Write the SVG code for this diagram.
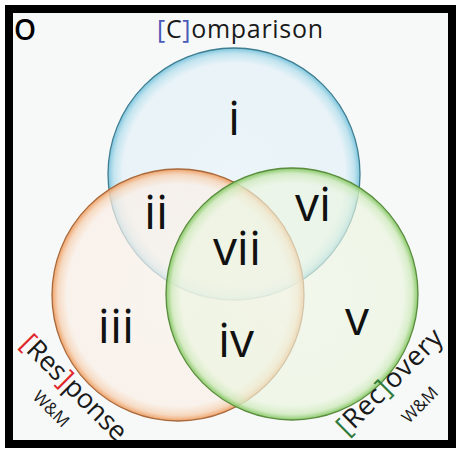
<svg xmlns="http://www.w3.org/2000/svg" width="456" height="453" viewBox="0 0 456 453">
<defs>
<radialGradient id="gB" cx="50%" cy="50%" r="50%">
<stop offset="0" stop-color="#e8f3f8" stop-opacity="0.75"/>
<stop offset="0.88" stop-color="#e4f1f7" stop-opacity="0.75"/>
<stop offset="0.955" stop-color="#b8e0ed" stop-opacity="0.85"/>
<stop offset="1" stop-color="#76c2dc" stop-opacity="0.95"/>
</radialGradient>
<radialGradient id="gO" cx="50%" cy="50%" r="50%">
<stop offset="0" stop-color="#fbf2eb" stop-opacity="0.7"/>
<stop offset="0.88" stop-color="#faefe6" stop-opacity="0.7"/>
<stop offset="0.955" stop-color="#f6d3b6" stop-opacity="0.85"/>
<stop offset="1" stop-color="#ee9c5e" stop-opacity="0.95"/>
</radialGradient>
<radialGradient id="gG" cx="50%" cy="50%" r="50%">
<stop offset="0" stop-color="#eef6e4" stop-opacity="0.65"/>
<stop offset="0.88" stop-color="#ebf5df" stop-opacity="0.65"/>
<stop offset="0.955" stop-color="#d0eabe" stop-opacity="0.85"/>
<stop offset="1" stop-color="#82c660" stop-opacity="0.95"/>
</radialGradient>
<style>
.num{font-family:"Open Sans","DejaVu Sans",sans-serif;font-size:48px;fill:#111;text-anchor:middle}
.lab{font-family:"Open Sans","DejaVu Sans",sans-serif;font-size:27px;fill:#1a1a1a}
.wm{font-family:"Open Sans","DejaVu Sans",sans-serif;font-size:17px;fill:#1a1a1a;text-anchor:middle}
</style>
</defs>
<rect x="9" y="9" width="443" height="435" fill="#f7f9f9" stroke="#000" stroke-width="8"/>
<text x="14" y="40" font-family="Open Sans, DejaVu Sans, sans-serif" font-size="28" font-weight="600" fill="#000">O</text>
<text x="157" y="38" font-family="Open Sans, DejaVu Sans, sans-serif" font-size="25" fill="#1a1a1a" textLength="166"><tspan fill="#4a5ab8">[</tspan>C<tspan fill="#4a5ab8">]</tspan>omparison</text>
<g id="comparison"><circle cx="234" cy="174" r="126" fill="url(#gB)" stroke="#3f7d90" stroke-width="1.3"/></g>
<g id="response"><circle cx="178" cy="295" r="126" fill="url(#gO)" stroke="#a8693c" stroke-width="1.3"/></g>
<g id="recovery"><circle cx="292" cy="294" r="126" fill="url(#gG)" stroke="#5a8c3e" stroke-width="1.3"/></g>
<g id="connectors"/>
<g id="regions">
<text class="num" x="234" y="135">i</text>
<text class="num" x="156" y="229">ii</text>
<text class="num" x="116" y="343">iii</text>
<text class="num" x="236" y="357">iv</text>
<text class="num" x="357" y="335">v</text>
<text class="num" x="313" y="221">vi</text>
<text class="num" x="237" y="265">vii</text>
</g>
<g id="response-label">
<text class="lab" transform="translate(19,345) rotate(45)" textLength="138"><tspan fill="#e0262a">[</tspan>Res<tspan fill="#e0262a">]</tspan>ponse</text>
<text class="wm" transform="translate(47,413) rotate(45)">W&amp;M</text>
</g>
<g id="recovery-label">
<text class="lab" transform="translate(347,437) rotate(-45)" textLength="138"><tspan fill="#2f7a3a">[</tspan>Rec<tspan fill="#2f7a3a">]</tspan>overy</text>
<text class="wm" transform="translate(424,409) rotate(-45)">W&amp;M</text>
</g>
</svg>
